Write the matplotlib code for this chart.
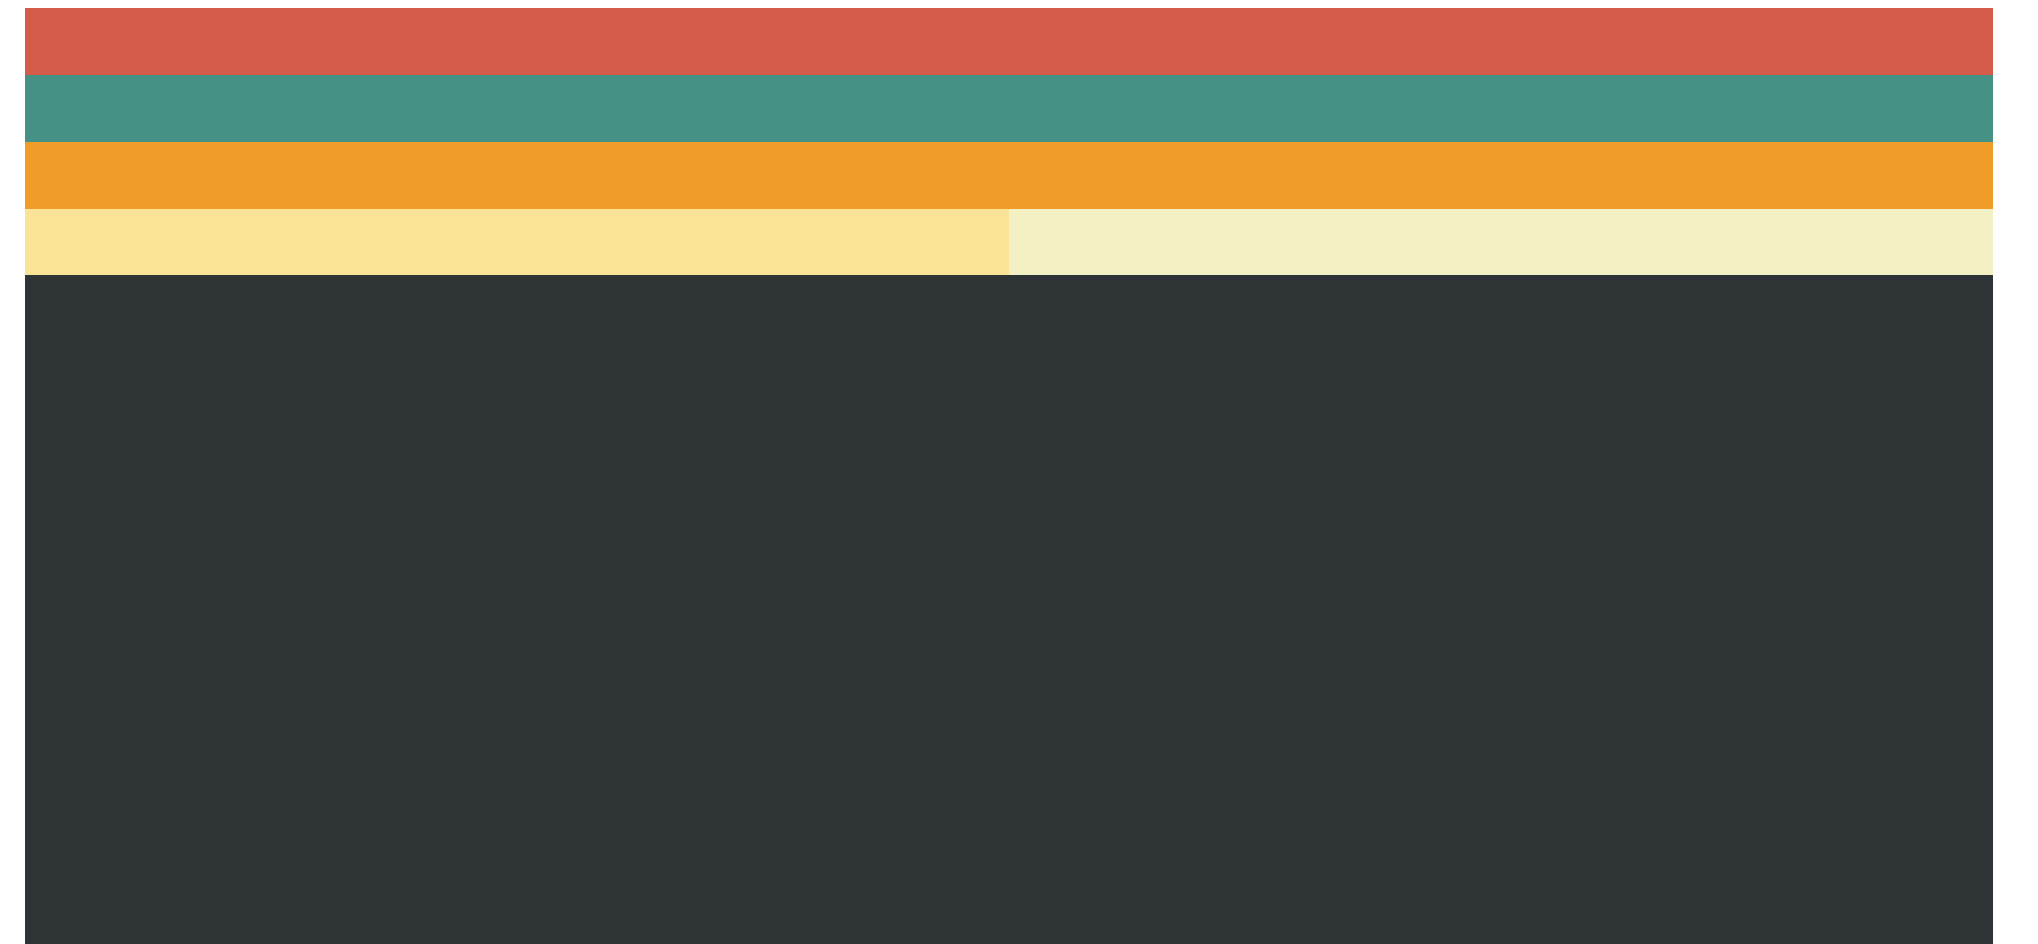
import matplotlib
matplotlib.use("Agg")
import matplotlib.pyplot as plt
from matplotlib.patches import Rectangle

# Data (treemap-like stacked layout, top to bottom)
labels = ["A", "B", "C", "D1", "D2", "E"]
values = [2, 2, 2, 1, 1, 20]
colors = ["#D55B4A", "#469185", "#EF9C28", "#FAE396", "#F3F1C3", "#2E3336"]
rows = [[0], [1], [2], [3, 4], [5]]

fig = plt.figure(figsize=(20.38, 9.45), dpi=100)
ax = fig.add_axes([25 / 2038, 0.0, 1968 / 2038, 936 / 945])
total = float(sum(values))

y_top = 1.0
for row in rows:
    row_sum = sum(values[i] for i in row)
    h = row_sum / total
    x = 0.0
    for i in row:
        w = values[i] / row_sum
        ax.add_patch(Rectangle((x, y_top - h), w, h, facecolor=colors[i],
                               edgecolor="none", linewidth=0))
        x += w
    y_top -= h

ax.set_xlim(0, 1)
ax.set_ylim(0, 1)
ax.axis("off")
fig.savefig("out.png", dpi=100)
